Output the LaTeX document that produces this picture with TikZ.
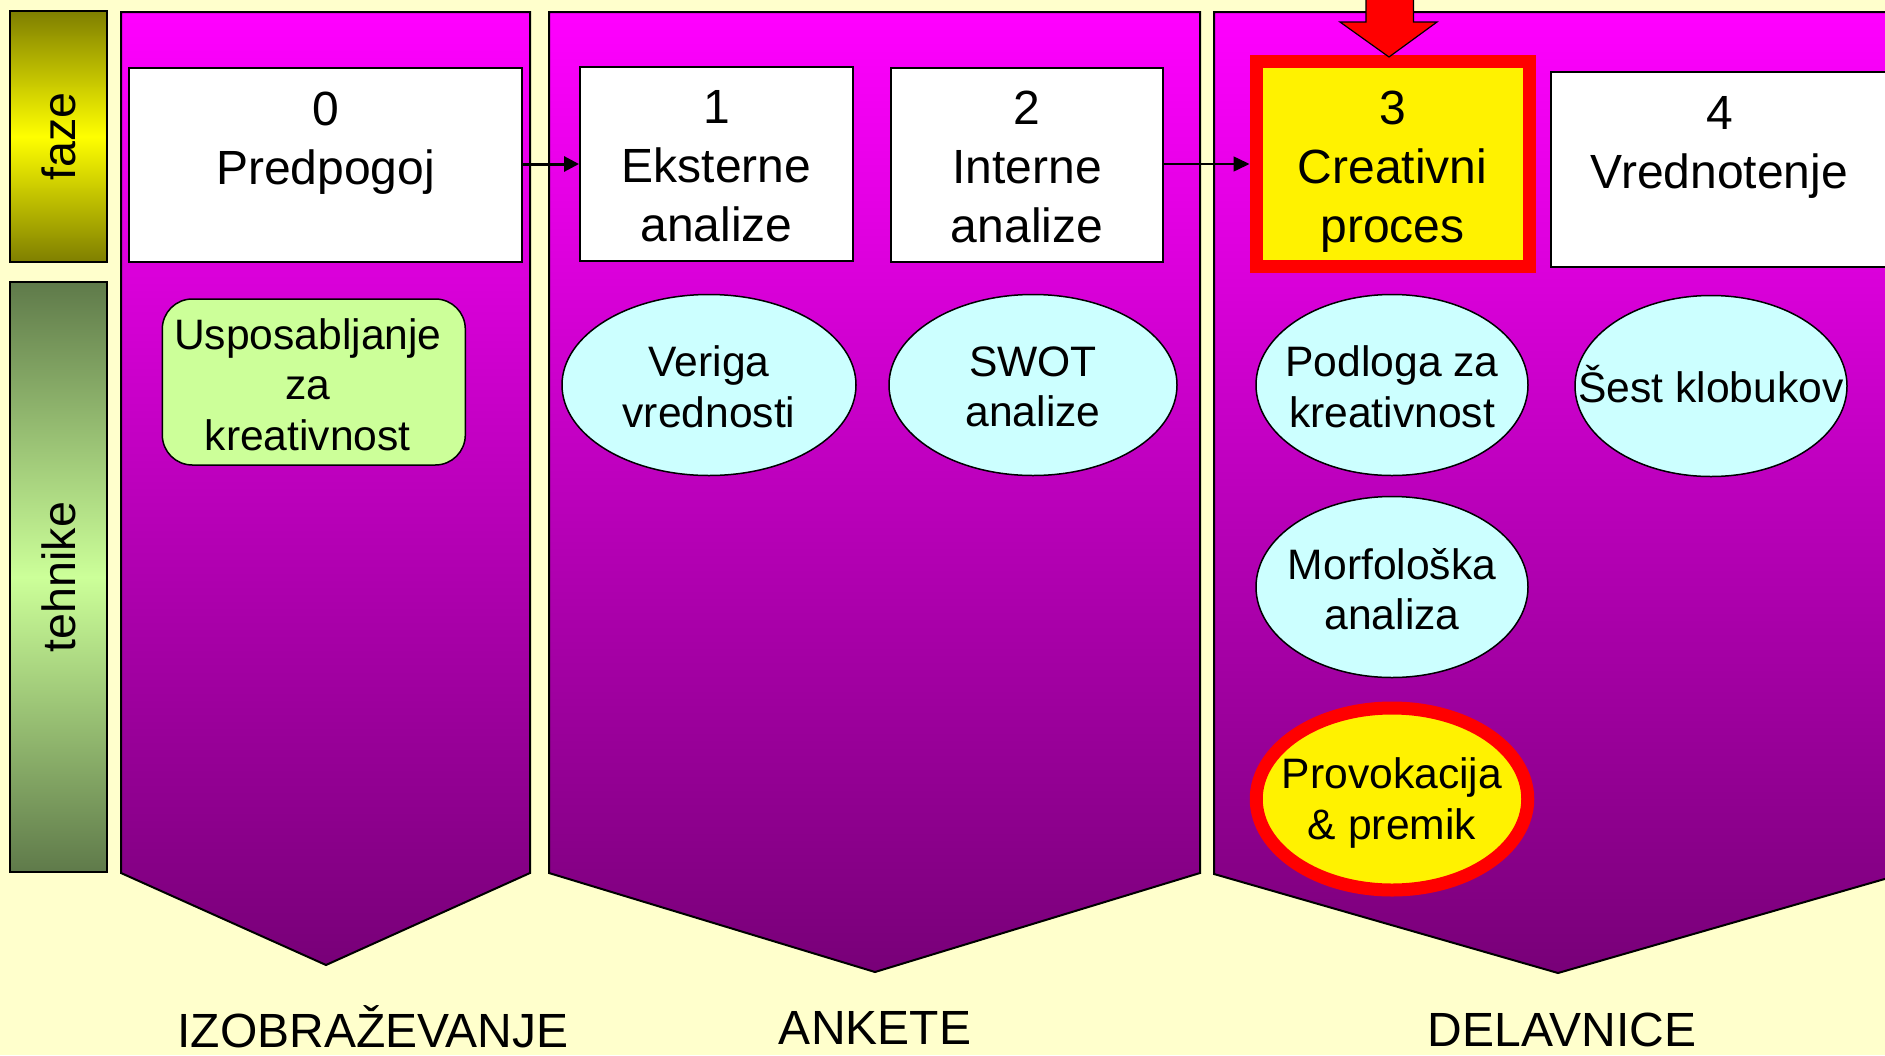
\documentclass[tikz,border=0pt]{standalone}
\usepackage{fontspec}
\setmainfont{Liberation Sans}
\usetikzlibrary{shapes.geometric,arrows.meta}
\definecolor{bgyel}{HTML}{FFFFCC}
\definecolor{magtop}{HTML}{FF00FF}
\definecolor{magbot}{HTML}{780078}
\definecolor{fazedark}{HTML}{7F7F00}
\definecolor{tehdark}{HTML}{5F7A4A}
\definecolor{tehlight}{HTML}{CCFF99}
\definecolor{lcyan}{HTML}{CCFFFF}
\definecolor{lgreen}{HTML}{CCFF99}
\begin{document}
\begin{tikzpicture}[x=0.5pt,y=-0.5pt,
  panel/.style={draw=black,line width=1pt,top color=magtop,bottom color=magbot},
  phasebox/.style={draw=black,line width=1pt,fill=white,inner sep=0pt},
  boxtext/.style={inner sep=0pt,align=center,anchor=north,font={\fontsize{24}{29.5}\selectfont}},
  tech/.style={ellipse,draw=black,line width=0.75pt,fill=lcyan,inner sep=0pt,minimum height=90.5pt},
  techtext/.style={inner sep=0pt,align=center,font={\fontsize{21.3}{25.25}\selectfont}},
  hot/.style={draw=red,line width=6.5pt,fill=yellow},
  bottomlabel/.style={inner sep=0pt,anchor=base,font={\fontsize{24}{29}\selectfont}},
  sidelabel/.style={inner sep=0pt,rotate=90,font={\fontsize{23.3}{28}\selectfont}}]
\useasboundingbox (0,0) rectangle (1885,1055);
\clip (0,0) rectangle (1885,1055);
\fill[bgyel] (0,0) rectangle (1885,1055);

% side bars
\draw[line width=1pt,top color=fazedark,bottom color=fazedark,middle color=yellow] (10,11) rectangle (107,262);
\node[sidelabel] (faze) at (58.5,136.5) {faze};
\draw[line width=1pt,top color=tehdark,bottom color=tehdark,middle color=tehlight] (10,282) rectangle (107,872);
\node[sidelabel] (tehnike) at (58.5,577) {tehnike};

% panels
\draw[panel] (121,12) -- (530,12) -- (530,873) -- (326,965) -- (121,873) -- cycle;
\draw[panel] (549,12) -- (1200,12) -- (1200,873) -- (875,972) -- (549,873) -- cycle;
\draw[panel] (1214,12) -- (1902,12) -- (1902,874) -- (1558,973) -- (1214,874) -- cycle;

% phase boxes
\node[phasebox,minimum width=196.5pt,minimum height=97pt] (b0) at (325.5,165) {};
\node[boxtext] (t0) at (325.5,91.5) {0\\Predpogoj};
\node[phasebox,minimum width=136.5pt,minimum height=97pt] (b1) at (716.5,164) {};
\node[boxtext] (t1) at (716.5,90.5) {1\\Eksterne\\analize};
\node[phasebox,minimum width=136pt,minimum height=97pt] (b2) at (1027,165) {};
\node[boxtext] (t2) at (1027,90.5) {2\\Interne\\analize};
\node[hot,inner sep=0pt,minimum width=136.5pt,minimum height=102.5pt] (b3) at (1392.5,164) {};
\node[boxtext] (t3) at (1392.5,90.5) {3\\Creativni\\proces};
\node[phasebox,minimum width=168.5pt,minimum height=97.5pt] (b4) at (1719.5,169.5) {};
\node[boxtext] (t4) at (1719.5,96.5) {4\\Vrednotenje};

% connectors
\draw[line width=1.5pt,-{Triangle[length=7.5pt,width=7.5pt]}] (b0.east |- b1) -- (b1.west);
\draw[line width=0.75pt,-{Triangle[length=8pt,width=7.5pt]}] (b2.east |- b3) -- (b3.west);

% red arrow from top
\draw[line width=0.6pt,fill=red] (1366,-10) -- (1366,22) -- (1340,22) -- (1389,57) -- (1437,22) -- (1413.5,22) -- (1413.5,-10) -- cycle;

% techniques
\node[draw=black,line width=0.75pt,fill=lgreen,rounded corners=15pt,inner sep=0pt,minimum width=151.5pt,minimum height=83pt] (u) at (313.8,382) {};
\node[techtext] (ut) at (307.8,384.5) {Usposabljanje\\za\\kreativnost};

\node[tech,minimum width=147pt] (e1) at (709,385) {};
\node[techtext] (e1t) at (709,387) {Veriga\\vrednosti};
\node[tech,minimum width=144pt] (e2) at (1033,385) {};
\node[techtext] (e2t) at (1033,387) {SWOT\\analize};
\node[tech,minimum width=136pt] (e3) at (1392,385) {};
\node[techtext] (e3t) at (1392,387) {Podloga za\\kreativnost};
\node[tech,minimum width=136pt] (e4) at (1711,386) {};
\node[techtext,text height=15.3pt,text depth=0pt] (e4t) at (1711,387) {Šest klobukov};
\node[tech,minimum width=136pt] (e5) at (1392,587) {};
\node[techtext] (e5t) at (1392,589) {Morfološka\\analiza};
\node[ellipse,hot,inner sep=0pt,minimum width=135.75pt,minimum height=91pt] (e6) at (1392,799) {};
\node[techtext] (e6t) at (1392,803) {Provokacija\\\& premik};

% bottom labels
\node[bottomlabel] (l1) at (373,1047) {IZOBRAŽEVANJE};
\node[bottomlabel] (l2) at (875,1044) {ANKETE};
\node[bottomlabel] (l3) at (1562,1046) {DELAVNICE};
\end{tikzpicture}
\end{document}
